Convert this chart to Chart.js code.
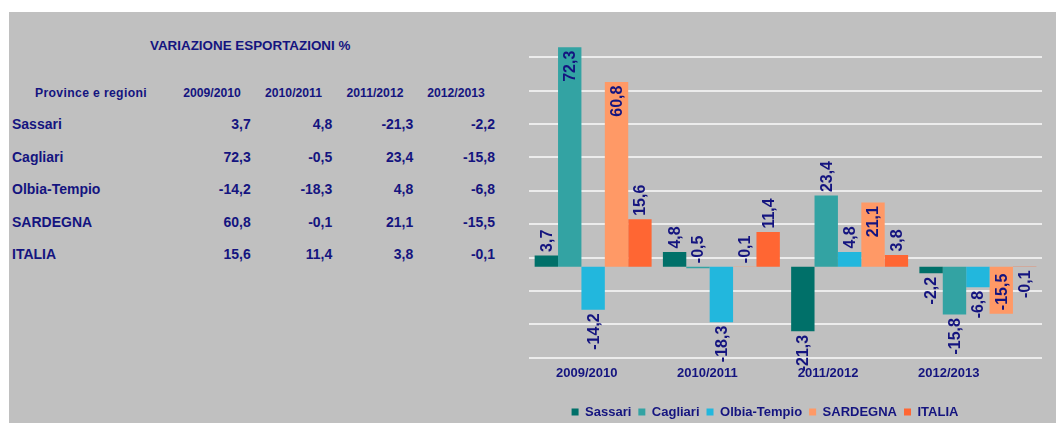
<!DOCTYPE html>
<html><head><meta charset="utf-8">
<script src="https://cdn.jsdelivr.net/npm/chart.js@4.4.0/dist/chart.umd.min.js"></script>
<style>
html,body{margin:0;padding:0;background:#fff;width:1056px;height:423px;overflow:hidden;font-family:"Liberation Sans",Arial,sans-serif;}
#bg{position:absolute;left:9px;top:12px;width:1047px;height:411px;background:#c0c0c0;}
.t{position:absolute;color:#14147f;font-weight:bold;white-space:nowrap;line-height:1;}
#wrap{position:absolute;left:480px;top:0;width:576px;height:440px;}
</style></head><body>
<div id="bg"></div>
<div id="table"></div>
<div id="wrap"><canvas id="c" width="576" height="440"></canvas></div>
<script>
const categories = ['2009/2010','2010/2011','2011/2012','2012/2013'];
const seriesNames = ['Sassari','Cagliari','Olbia-Tempio','SARDEGNA','ITALIA'];
const sassari  = [3.7, 4.8, -21.3, -2.2];
const cagliari = [72.3, -0.5, 23.4, -15.8];
const olbia    = [-14.2, -18.3, 4.8, -6.8];
const sardegna = [60.8, -0.1, 21.1, -15.5];
const italia   = [15.6, 11.4, 3.8, -0.1];
const gridTicks = [-30, -19, -8, 3, 14, 25, 36, 47, 58, 69];
const titleText = 'VARIAZIONE ESPORTAZIONI %';
const headerText = 'Province e regioni';

const NAVY = '#14147f';
const colors = ['#007069', '#33a3a3', '#22b7dd', '#ff9966', '#ff6633'];
const allSeries = [sassari, cagliari, olbia, sardegna, italia];
// label placement per point: out = outside end, in = inside end, up = above baseline
const labelPlaces = [
  ['out','out','out','out'],
  ['in','up','out','out'],
  ['out','out','out','out'],
  ['in','up','in','in'],
  ['out','out','out','out']
];
const fmt = v => v.toFixed(1).replace('.', ',');

// ---- table (HTML text) ----
const tbl = document.getElementById('table');
function addText(txt, css) {
  const d = document.createElement('div');
  d.className = 't';
  d.textContent = txt;
  Object.assign(d.style, css);
  tbl.appendChild(d);
  return d;
}
addText(titleText, {left:'150px', top:'39px', fontSize:'13.4px'});
addText(headerText, {left:'35px', top:'87px', fontSize:'12.2px', letterSpacing:'0.35px'});
const colRight = [250.7, 332.3, 413.3, 495];
const colCenter = [212, 293.5, 375, 456];
categories.forEach((c, j) => {
  const d = addText(c, {top:'87px', fontSize:'12.2px'});
  d.style.left = (colCenter[j] - 29) + 'px';
  d.style.width = '58px';
  d.style.textAlign = 'center';
});
const rowY = [125, 157.5, 190, 222.5, 255];
seriesNames.forEach((n, i) => {
  addText(n, {left:'12px', top:(rowY[i] - 8) + 'px', fontSize:'14px'});
  allSeries[i].forEach((v, j) => {
    const d = addText(fmt(v), {top:(rowY[i] - 8) + 'px', fontSize:'14px', textAlign:'right', width:'60px'});
    d.style.left = (colRight[j] - 60) + 'px';
  });
});

// ---- chart ----
Chart.defaults.font.family = '"Liberation Sans", Arial, sans-serif';
const labelPlugin = {
  id: 'barLabels',
  afterDatasetsDraw(chart) {
    const ctx = chart.ctx;
    ctx.save();
    ctx.font = 'bold 16px "Liberation Sans", Arial, sans-serif';
    ctx.fillStyle = NAVY;
    ctx.textBaseline = 'middle';
    ctx.textAlign = 'center';
    chart.data.datasets.forEach((ds, di) => {
      const meta = chart.getDatasetMeta(di);
      meta.data.forEach((bar, i) => {
        const v = ds.data[i];
        const txt = fmt(v);
        const w = ctx.measureText(txt).width;
        const place = labelPlaces[di][i];
        const gap = 3.5;
        let cy;
        if (place === 'in') cy = v >= 0 ? bar.y + gap + w / 2 : bar.y - gap - w / 2;
        else if (place === 'up') cy = Math.min(bar.base, bar.y) - gap - w / 2;
        else cy = v >= 0 ? bar.y - gap - w / 2 : bar.y + gap + w / 2;
        ctx.save();
        ctx.translate(bar.x + 1, cy);
        ctx.rotate(-Math.PI / 2);
        ctx.fillText(txt, 0, 0);
        ctx.restore();
      });
    });
    ctx.restore();
  }
};

new Chart(document.getElementById('c'), {
  type: 'bar',
  data: {
    labels: categories,
    datasets: seriesNames.map((n, i) => ({
      label: n,
      data: allSeries[i],
      backgroundColor: colors[i],
      borderWidth: 0,
      categoryPercentage: 0.912,
      barPercentage: 1
    }))
  },
  options: {
    responsive: false,
    animation: false,
    devicePixelRatio: 1,
    layout: { padding: { left: 8, right: 14, top: 39, bottom: 11.5 } },
    plugins: {
      tooltip: { enabled: false },
      legend: {
        position: 'bottom',
        labels: {
          boxWidth: 7, boxHeight: 7, padding: 7,
          color: NAVY,
          font: { size: 13, weight: 'bold' }
        }
      }
    },
    scales: {
      x: { display: false },
      xl: {
        type: 'linear', position: 'bottom',
        offset: false,
        min: -0.479, max: 3.773,
        afterBuildTicks: s => { s.ticks = categories.map((c, i) => ({ value: i })); },
        afterFit: s => { s.height = 40.8; },
        grid: { display: false, drawTicks: false, offset: false },
        border: { display: false },
        ticks: {
          callback: v => categories[v],
          color: NAVY, padding: 8, maxRotation: 0, autoSkip: false,
          font: { size: 13, weight: 'bold' }
        }
      },
      y: {
        min: -30, max: 75,
        afterBuildTicks: s => { s.ticks = gridTicks.map(v => ({ value: v })); },
        afterFit: s => { s.width = 41; },
        ticks: { display: false },
        grid: { color: '#ececec', lineWidth: 2, drawTicks: false },
        border: { display: false }
      }
    }
  },
  plugins: [labelPlugin]
});
</script>
</body></html>
